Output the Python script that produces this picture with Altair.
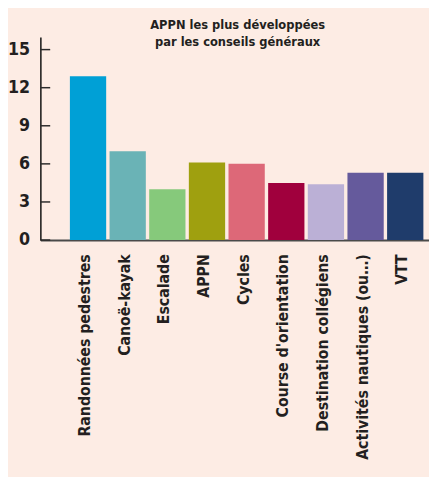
import altair as alt
import pandas as pd

categories = ["Randonnées pedestres", "Canoë-kayak", "Escalade", "APPN", "Cycles",
              "Course d'orientation", "Destination collégiens",
              "Activités nautiques (ou…)", "VTT"]
values = [12.9, 7.0, 4.0, 6.1, 6.0, 4.5, 4.4, 5.3, 5.3]
colors = ["#00A0D6", "#6AB3B6", "#86C97B", "#9FA00F", "#DD6878",
          "#A0003D", "#BBB0D6", "#655A9C", "#1F3C6B"]
y_ticks = [0, 3, 6, 9, 12, 15]
title_lines = ["APPN les plus développées", "par les conseils généraux"]

FONT = "DejaVu Sans Condensed, sans-serif"
INK = "#231F20"
BG = "#FDECE4"

df = pd.DataFrame({"cat": categories, "val": values, "color": colors})
ticks_df = pd.DataFrame({"val": y_ticks})

x = alt.X("cat:N", sort=categories,
          scale=alt.Scale(paddingInner=0.085, paddingOuter=0.443, align=0.84),
          axis=alt.Axis(title=None, labelAngle=-90, labelAlign="right", labelBaseline="middle",
                        labelFont=FONT, labelFontSize=16, labelFontWeight="bold", labelColor=INK,
                        labelPadding=14, labelOffset=-3, ticks=False, labelLimit=400,
                        domainColor="#4a4a4a", domainWidth=2))
y = alt.Y("val:Q", scale=alt.Scale(domain=[0, 15]),
          axis=alt.Axis(title=None, values=y_ticks, ticks=False, grid=False,
                        labelFont=FONT, labelFontSize=18, labelFontWeight="bold", labelColor=INK,
                        labelPadding=11, domainColor="#111111", domainWidth=1.5))

bars = alt.Chart(df).mark_bar().encode(
    x=x, y=y, color=alt.Color("color:N", scale=None, legend=None))

tick_rules = alt.Chart(ticks_df).mark_rule(color="#2b2b2b", strokeWidth=1.5).encode(
    y=alt.Y("val:Q"), x=alt.value(0), x2=alt.value(10))

chart = alt.layer(bars, tick_rules).properties(
    width=396, height=207,
    title=alt.Title(title_lines, font=FONT, fontSize=13, fontWeight="bold", color=INK,
                    anchor="middle", frame="group", dx=3, offset=-12, lineHeight=17),
    padding={"left": 33, "top": 25, "right": 0, "bottom": 237},
    autosize=alt.AutoSizeParams(type="none"),
    background=BG,
).configure_view(stroke=None)

chart.save("out.html", embed_options={"renderer": "svg", "actions": False})
